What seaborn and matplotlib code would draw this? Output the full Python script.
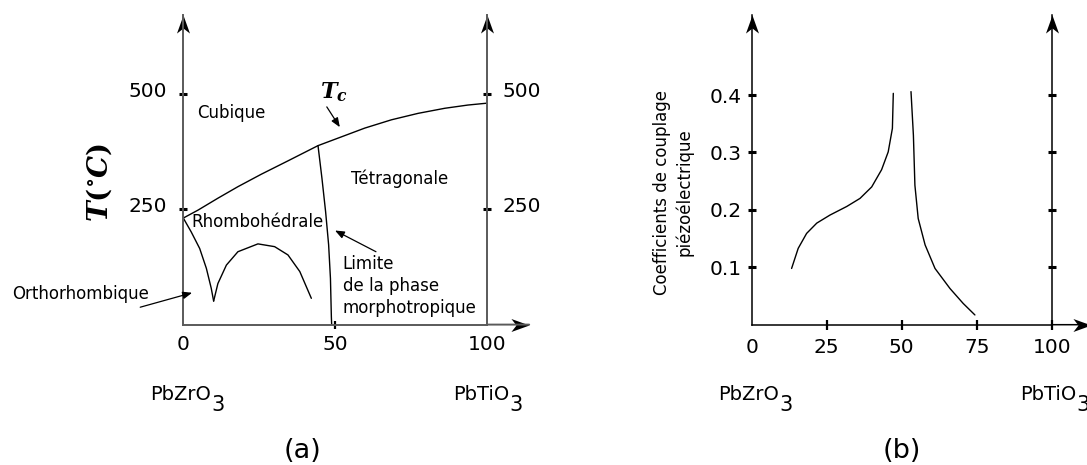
import numpy as np
import matplotlib
matplotlib.use("Agg")
import matplotlib.pyplot as plt
import matplotlib.transforms as mtransforms
from matplotlib.path import Path
import seaborn as sns

# ---------------- data : (a) phase diagram ----------------
tc_x = [0, 4.8, 11.4, 18.0, 25.7, 34.5, 44.4, 52.1, 59.8, 68.6, 77.4, 86.2, 93.8, 100]
tc_T = [231, 248, 274, 299, 326, 355, 388, 407, 426, 444, 458, 469, 476, 480]
mpb_x = [44.4, 45.7, 46.9, 47.9, 48.5, 48.8, 48.9]
mpb_T = [388, 317, 245, 173, 100, 17, 0]
ro_x = [0, 2.6, 5.4, 7.6, 9.2, 10.0]
ro_T = [231, 201, 165, 122, 79, 51]
arch_x = [10.0, 11.4, 14.2, 18.0, 24.6, 30.1, 34.5, 38.4, 42.2]
arch_T = [51, 89, 129, 158, 175, 169, 151, 115, 57]
a_xticks = [0, 50, 100]
a_yticks = [250, 500]

# ---------------- data : (b) coupling coefficient ----------------
k_left_x = [13.3, 15.5, 18.3, 21.7, 26.1, 31.7, 36.1, 40.0, 43.3, 45.5, 46.9, 47.2]
k_left_y = [0.098, 0.133, 0.159, 0.177, 0.191, 0.206, 0.220, 0.240, 0.270, 0.301, 0.342, 0.403]
k_right_x = [53.1, 53.9, 54.4, 55.5, 57.8, 61.1, 66.1, 70.5, 74.4]
k_right_y = [0.406, 0.330, 0.243, 0.185, 0.139, 0.098, 0.063, 0.037, 0.017]
b_xticks = [0, 25, 50, 75, 100]
b_yticks = [0.1, 0.2, 0.3, 0.4]

sns.set_theme(style="white", rc={
    "text.color": "black", "axes.labelcolor": "black",
    "xtick.color": "black", "ytick.color": "black",
    "axes.edgecolor": "black",
})
plt.rcParams['font.family'] = ['DejaVu Sans']
plt.rcParams['mathtext.fontset'] = 'custom'
plt.rcParams['mathtext.it'] = 'DejaVu Serif:italic:bold'
plt.rcParams['mathtext.rm'] = 'DejaVu Serif:bold'
plt.rcParams['mathtext.bf'] = 'DejaVu Serif:bold'

W, H = 1087, 465
fig = plt.figure(figsize=(W / 100, H / 100), dpi=100)
ax_a = fig.add_axes([183.3 / W, (H - 324.6) / H, 303.4 / W, 309.5 / H])
ax_b = fig.add_axes([751.7 / W, (H - 324.7) / H, 300.0 / W, 310.0 / H])

UP = Path([(0, 0), (0.36, -1), (0, -0.72), (-0.36, -1), (0, 0)],
          [Path.MOVETO, Path.LINETO, Path.LINETO, Path.LINETO, Path.CLOSEPOLY])
RIGHT = Path([(0, 0), (-1, -0.36), (-0.72, 0), (-1, 0.36), (0, 0)],
             [Path.MOVETO, Path.LINETO, Path.LINETO, Path.LINETO, Path.CLOSEPOLY])


def style_axes(ax, spine_color, spine_lw, x_end):
    ax.grid(False)
    ax.spines['top'].set_visible(False)
    for s in ('left', 'right', 'bottom'):
        ax.spines[s].set_color(spine_color)
        ax.spines[s].set_linewidth(spine_lw)
    ax.annotate('', xy=(x_end, 0), xytext=(1, 0), xycoords='axes fraction',
                arrowprops=dict(arrowstyle='-', color=spine_color, lw=spine_lw,
                                shrinkA=0, shrinkB=0), annotation_clip=False)
    for (px, py, mk) in ((0, 1, UP), (1, 1, UP), (x_end, 0, RIGHT)):
        ax.plot([px], [py], transform=ax.transAxes, marker=mk, ms=26,
                color='black', mew=0, linestyle='none', clip_on=False)


def compound(ax, x, label):
    tr = ax.get_xaxis_transform()
    t = ax.text(x, -0.2436, label, transform=tr, fontsize=14, ha='left', va='baseline')
    ax.annotate('3', xy=(1, 0), xycoords=t, xytext=(0.2, -5.1),
                textcoords='offset points', fontsize=15, ha='left', va='baseline')


# ---------------- panel (a) ----------------
ax = ax_a
for xs, ys in ((tc_x, tc_T), (mpb_x, mpb_T), (ro_x, ro_T), (arch_x, arch_T)):
    sns.lineplot(x=xs, y=ys, ax=ax, color='black', lw=1.0, sort=False, estimator=None)
ax.set_xlim(0, 100)
ax.set_ylim(0, 671)
ax.set_xticks(a_xticks)
ax.set_yticks(a_yticks)
ax.set_xticklabels([str(v) for v in a_xticks])
ax.set_yticklabels([str(v) for v in a_yticks])
style_axes(ax, '#5a5a5a', 1.4, 1.14)
ax.tick_params(axis='y', left=True, right=True, labelleft=True, labelright=True,
               direction='inout', length=6, width=2.2, pad=8.5, labelsize=14.5)
ax.tick_params(axis='x', bottom=True, direction='inout', length=6, width=1.6,
               pad=4.8, labelsize=14.5)
for t in ax.xaxis.get_major_ticks():
    if t.get_loc() in (0, 100):
        t.tick1line.set_visible(False)
shift = mtransforms.ScaledTranslation(0, 0.047, fig.dpi_scale_trans)
for t in ax.yaxis.get_major_ticks():
    t.label1.set_transform(t.label1.get_transform() + shift)
    t.label2.set_transform(t.label2.get_transform() + shift)

ax.set_ylabel(r'$T(^{\circ}C)$', fontsize=20, rotation=90)
ax.yaxis.label.set_va('center')
ax.yaxis.set_label_coords(-0.2785, 0.459)

ax.text(49.7, 504, r'$T_c$', fontsize=16, ha='center', va='center')
ax.text(15.7, 458, 'Cubique', fontsize=12, ha='center', va='center')
ax.text(71.4, 317, 'Tétragonale', fontsize=12, ha='center', va='center')
ax.text(24.5, 223, 'Rhombohédrale', fontsize=12, ha='center', va='center')
ax.text(52.5, 84, 'Limite\nde la phase\nmorphotropique', fontsize=12,
        ha='left', va='center', linespacing=1.3)
ax.text(-33.9, 65.5, 'Orthorhombique', fontsize=12, ha='center', va='center')

arw = dict(arrowstyle='-|>,head_length=0.5,head_width=0.2', mutation_scale=11,
           color='black', lw=0.9, shrinkA=0, shrinkB=0)
ax.annotate('', xy=(51.6, 428), xytext=(47.3, 472), arrowprops=arw)
ax.annotate('', xy=(50.0, 204), xytext=(63.5, 158), arrowprops=arw)
ax.annotate('', xy=(2.9, 69), xytext=(-14.2, 37.7), arrowprops=arw,
            annotation_clip=False)

compound(ax, -11.0, 'PbZrO')
compound(ax, 89.0, 'PbTiO')
ax.text(39.3, -0.408, '(a)', transform=ax.get_xaxis_transform(), fontsize=19.5,
        ha='center', va='center')

# ---------------- panel (b) ----------------
ax = ax_b
for xs, ys in ((k_left_x, k_left_y), (k_right_x, k_right_y)):
    sns.lineplot(x=xs, y=ys, ax=ax, color='black', lw=1.0, sort=False, estimator=None)
ax.set_xlim(0, 100)
ax.set_ylim(0, 0.54)
ax.set_xticks(b_xticks)
ax.set_yticks(b_yticks)
ax.set_xticklabels([str(v) for v in b_xticks])
ax.set_yticklabels([f'{v:.1f}' for v in b_yticks])
style_axes(ax, 'black', 1.1, 1.13)
ax.tick_params(axis='y', left=True, right=True, labelleft=True, labelright=False,
               direction='inout', length=6, width=2.2, pad=4, labelsize=14.5)
ax.tick_params(axis='x', bottom=True, direction='inout', length=7, width=1.6,
               pad=6, labelsize=14.5)
for t in ax.xaxis.get_major_ticks():
    if t.get_loc() == 0:
        t.tick1line.set_visible(False)
ax.set_ylabel('Coefficients de couplage\npiézoélectrique', fontsize=12,
              linespacing=1.25)
ax.yaxis.label.set_va('center')
ax.yaxis.set_label_coords(-0.262, 0.428)

compound(ax, -11.2, 'PbZrO')
compound(ax, 89.4, 'PbTiO')
ax.text(50, -0.408, '(b)', transform=ax.get_xaxis_transform(), fontsize=19.5,
        ha='center', va='center')

fig.savefig('out.png', dpi=100)
